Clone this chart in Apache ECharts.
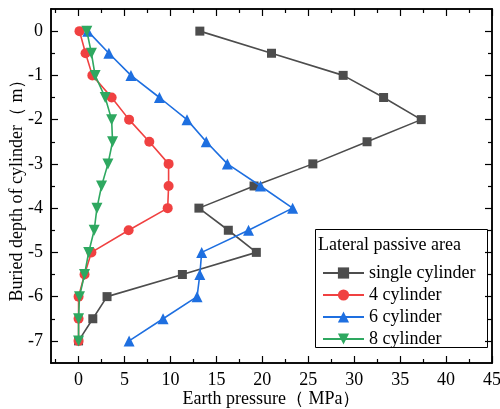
<!DOCTYPE html>
<html>
<head>
<meta charset="utf-8">
<script src="https://cdn.jsdelivr.net/npm/echarts@6/dist/echarts.min.js"></script>
<style>
  html, body { margin: 0; padding: 0; background: #fff; }
  #chart { width: 500px; height: 409px; }
</style>
</head>
<body>
<div id="chart"></div>
<script>
// Buried depth of cylinder (m)
const depth = [0, -0.5, -1, -1.5, -2, -2.5, -3, -3.5, -4, -4.5, -5, -5.5, -6, -6.5, -7];

// Earth pressure (MPa) on the lateral passive area
const singleCylinder = [13.2, 21.0, 28.8, 33.2, 37.3, 31.4, 25.5, 19.1, 13.1, 16.3, 19.35, 11.3, 3.1, 1.55, 0];
const fourCylinder   = [0.1, 0.76, 1.5, 3.6, 5.5, 7.7, 9.8, 9.8, 9.7, 5.45, 1.4, 0.65, 0, 0, 0];
const sixCylinder    = [1.0, 3.3, 5.7, 8.8, 11.8, 13.9, 16.2, 19.8, 23.3, 18.5, 13.4, 13.2, 12.9, 9.2, 5.5];
const eightCylinder  = [0.9, 1.4, 1.8, 2.9, 3.6, 3.7, 3.2, 2.5, 2.0, 1.7, 1.1, 0.65, 0.1, 0, 0];

const seriesNames = ['single cylinder', '4 cylinder', '6 cylinder', '8 cylinder'];
const legendTitle = 'Lateral passive area';

// Tick positions
const xMajor = [0, 5, 10, 15, 20, 25, 30, 35, 40, 45];
const xMinor = [-2.5, 2.5, 7.5, 12.5, 17.5, 22.5, 27.5, 32.5, 37.5, 42.5];
const yMajor = [0, -1, -2, -3, -4, -5, -6, -7];
const yMinor = [-0.5, -1.5, -2.5, -3.5, -4.5, -5.5, -6.5];

const FONT = "'Liberation Serif', 'Times New Roman', serif";

function axis(pos, min, max, ticks, len, withLabel, extra) {
  return Object.assign({
    type: 'value', position: pos, min: min, max: max,
    axisLine: { show: true, onZero: false, lineStyle: { color: '#000', width: 1.5 } },
    axisTick: { show: true, inside: true, length: len, customValues: ticks,
                lineStyle: { color: '#000', width: 1.2 } },
    axisLabel: withLabel
      ? { show: true, customValues: ticks, margin: 8, color: '#000', fontSize: 18, fontFamily: FONT }
      : { show: false },
    splitLine: { show: false }
  }, extra || {});
}

const chart = echarts.init(document.getElementById('chart'), null, { renderer: 'canvas' });

const xMin = -3, xMax = 45, yMin = -7.5, yMax = 0.5;

const colors = ['#4d4d4d', '#f04141', '#1e6fe0', '#2ea860'];
const symbols = ['rect', 'circle', 'triangle', 'triangle'];
const symbolSizes = [9, 10, 11, 11];
const rotates = [0, 0, 0, 180];
const values = [singleCylinder, fourCylinder, sixCylinder, eightCylinder];

const yAxisMain = axis('left', yMin, yMax, yMajor, 7, true, {
  name: 'Buried depth of cylinder（ m）', nameLocation: 'middle', nameGap: 25,
  nameMoveOverlap: false,
  nameTextStyle: { color: '#000', fontSize: 18, fontFamily: FONT }
});
yAxisMain.axisLabel.padding = [5, 0, 0, 0];

chart.setOption({
  animation: false,
  backgroundColor: '#fff',
  grid: { left: 51, right: 8, top: 9, bottom: 46, containLabel: false, outerBoundsMode: 'none' },
  xAxis: [
    axis('bottom', xMin, xMax, xMajor, 7, true, {
      name: 'Earth pressure（ MPa）', nameLocation: 'middle', nameGap: 27,
      nameMoveOverlap: false,
      nameTextStyle: { color: '#000', fontSize: 18, fontFamily: FONT }
    }),
    axis('bottom', xMin, xMax, xMinor, 4, false),
    axis('top', xMin, xMax, xMajor, 7, false),
    axis('top', xMin, xMax, xMinor, 4, false)
  ],
  yAxis: [
    yAxisMain,
    axis('left', yMin, yMax, yMinor, 4, false),
    axis('right', yMin, yMax, yMajor, 7, false),
    axis('right', yMin, yMax, yMinor, 4, false)
  ],
  legend: {
    orient: 'vertical', left: 317, top: 259,
    itemWidth: 41, itemHeight: 14, itemGap: 4,
    textStyle: { color: '#000', fontSize: 18, fontFamily: FONT },
    data: seriesNames
  },
  graphic: [
    { type: 'rect', left: 315, top: 229, shape: { width: 172, height: 118 },
      style: { fill: '#fff', stroke: '#000', lineWidth: 1 }, z: 0 },
    { type: 'text', left: 318, top: 236,
      style: { text: legendTitle, fill: '#000', font: "18px 'Liberation Serif', 'Times New Roman', serif" }, z: 1 }
  ],
  series: seriesNames.map((name, k) => ({
    name: name,
    type: 'line',
    xAxisIndex: 0, yAxisIndex: 0,
    data: depth.map((d, i) => [values[k][i], d]),
    symbol: symbols[k],
    symbolSize: symbolSizes[k],
    symbolRotate: rotates[k],
    showAllSymbol: true,
    lineStyle: { color: colors[k], width: 1.6 },
    itemStyle: { color: colors[k], opacity: 1 },
    z: 2 + k
  }))
});
</script>
</body>
</html>
